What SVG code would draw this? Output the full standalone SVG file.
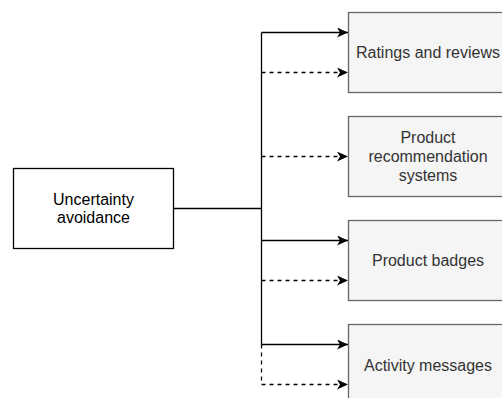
<svg xmlns="http://www.w3.org/2000/svg" width="502" height="398" viewBox="0 0 502 398">
  <style>
    .src { fill: #ffffff; stroke: #000000; stroke-width: 1.3; }
    .item { fill: #f5f5f5; stroke: #666666; stroke-width: 1.3; }
    .lbl { font-family: "Liberation Sans", Arial, sans-serif; font-size: 16px; text-anchor: middle; }
    .dark { fill: #000000; }
    .grey { fill: #333333; }
    .edge { fill: none; stroke: #000000; stroke-width: 1.3; }
    .dash { stroke-dasharray: 4 4; }
  </style>
  <defs>
    <marker id="arrow" viewBox="0 0 11 10" refX="11" refY="5" markerWidth="11" markerHeight="10" markerUnits="userSpaceOnUse" orient="auto">
      <path d="M0,0 L11,5 L0,10 L3,5 Z" fill="#000000"/>
    </marker>
  </defs>

  <rect width="502" height="398" fill="#ffffff"/>

  <g id="connectors">
    <path class="edge" d="M173.5,208.5 H261.5"/>
    <path class="edge" d="M261.5,32.5 V344.5"/>
    <path class="edge dash" d="M261.5,344.5 V384.5"/>
    <path class="edge" d="M261.5,32.5 H348" marker-end="url(#arrow)"/>
    <path class="edge dash" d="M261.5,72.5 H348" marker-end="url(#arrow)"/>
    <path class="edge dash" d="M261.5,156.5 H348" marker-end="url(#arrow)"/>
    <path class="edge" d="M261.5,240.5 H348" marker-end="url(#arrow)"/>
    <path class="edge dash" d="M261.5,280.5 H348" marker-end="url(#arrow)"/>
    <path class="edge" d="M261.5,344.5 H348" marker-end="url(#arrow)"/>
    <path class="edge dash" d="M261.5,384.5 H348" marker-end="url(#arrow)"/>
  </g>

  <g id="uncertainty-avoidance">
    <rect class="src" x="13.5" y="168.5" width="160" height="80"/>
    <text class="lbl dark" x="93.5" y="205">Uncertainty</text>
    <text class="lbl dark" x="93.5" y="223">avoidance</text>
  </g>

  <g id="ratings-and-reviews">
    <rect class="item" x="348.5" y="12.5" width="160" height="80"/>
    <text class="lbl grey" x="428" y="57.5">Ratings and reviews</text>
  </g>

  <g id="product-recommendation-systems">
    <rect class="item" x="348.5" y="116.5" width="160" height="80"/>
    <text class="lbl grey" x="428" y="143">Product</text>
    <text class="lbl grey" x="428" y="162">recommendation</text>
    <text class="lbl grey" x="428" y="181">systems</text>
  </g>

  <g id="product-badges">
    <rect class="item" x="348.5" y="220.5" width="160" height="80"/>
    <text class="lbl grey" x="428" y="266">Product badges</text>
  </g>

  <g id="activity-messages">
    <rect class="item" x="348.5" y="324.5" width="160" height="80"/>
    <text class="lbl grey" x="428" y="370.5">Activity messages</text>
  </g>
</svg>
